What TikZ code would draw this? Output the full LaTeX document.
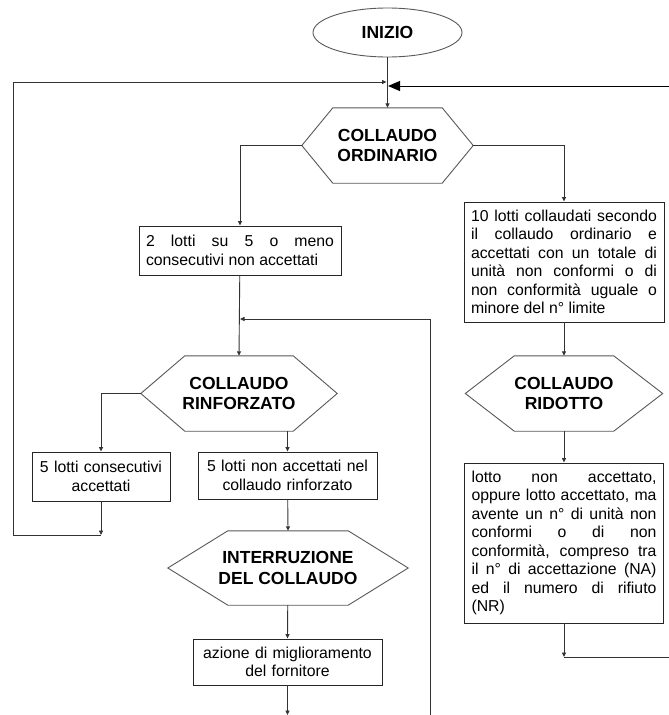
\documentclass[tikz,border=0pt]{standalone}
\usepackage{fontspec}
\setmainfont{Liberation Sans}
\usetikzlibrary{arrows.meta,shapes.geometric}
\newcommand\boxfont{\fontsize{15.8}{18.5}\selectfont}
\newcommand\hexfont{\fontsize{17.5}{20.5}\selectfont\bfseries}
\newcommand\drawhex[2]{\draw[hexline] (#1.west) -- ([xshift=#2]#1.north west) -- ([xshift=-#2]#1.north east) -- (#1.east) -- ([xshift=-#2]#1.south east) -- ([xshift=#2]#1.south west) -- cycle;}
\begin{document}
\begin{tikzpicture}[x=1pt,y=-1pt,
 line/.style={draw=black!80, line width=0.9pt},
 arr/.style={line, -{Triangle[length=4.5pt,width=4pt]}},
 bigarr/.style={draw=black, line width=1pt, -{Triangle[length=12pt,width=10pt]}},
 boxj/.style={draw=black!85, line width=0.9pt, inner xsep=7pt, inner ysep=0pt, font=\boxfont, align=justify},
 boxc/.style={boxj, align=center},
 hex/.style={inner sep=0pt, font=\hexfont, align=center},
 hexline/.style={draw=black!65, line width=0.9pt},
 ell/.style={draw=black!65, line width=0.9pt, ellipse, inner sep=0pt, font=\hexfont},
]
\useasboundingbox (0,0) rectangle (669,715);
\fill[white] (0,0) rectangle (669,715);

% nodes
\node[ell, minimum width=149pt, minimum height=49pt] (ini) at (387.5,32.5) {INIZIO};
\node[hex, minimum width=171pt, minimum height=75pt] (ord) at (387.5,145.5) {COLLAUDO\\ORDINARIO};
\drawhex{ord}{31}
\node[boxj, text width=188pt, minimum height=49pt] (b2) at (240,250.5)
 {2 lotti su 5 o meno\linebreak consecutivi non accettati};
\node[boxj, text width=186pt, minimum height=120pt] (b10) at (564,262)
 {10 lotti collaudati secondo\linebreak il collaudo ordinario e\linebreak accettati con un totale di\linebreak unità non conformi o di\linebreak non conformità uguale o\linebreak minore del n° limite};
\node[hex, minimum width=196pt, minimum height=75pt] (rinf) at (239,393.5) {COLLAUDO\\RINFORZATO};
\drawhex{rinf}{44}
\node[hex, minimum width=197pt, minimum height=75pt] (rid) at (564,393.5) {COLLAUDO\\RIDOTTO};
\drawhex{rid}{49}
\node[boxc, text width=124pt, minimum height=49pt] (b5c) at (101,476.5) {5 lotti consecutivi\\accettati};
\node[boxc, text width=165pt, minimum height=47pt] (b5n) at (287.5,475.5) {5 lotti non accettati nel\\collaudo rinforzato};
\node[hex, minimum width=240pt, minimum height=74pt] (intr) at (288,568) {INTERRUZIONE\\DEL COLLAUDO};
\drawhex{intr}{60}
\node[boxc, text width=175pt, minimum height=46pt] (baz) at (287.5,662) {azione di miglioramento\\del fornitore};
\node[boxj, text width=185pt, minimum height=160pt] (blotto) at (564,543)
 {lotto non accettato,\linebreak oppure lotto accettato, ma\linebreak avente un n° di unità non\linebreak conformi o di non\linebreak conformità, compreso tra\linebreak il n° di accettazione (NA)\linebreak ed il numero di rifiuto\linebreak (NR)};

% coordinates
\coordinate (j1) at (240,319);
\coordinate (bot1) at (430,715);
\coordinate (bot2) at (287.5,715);
\coordinate (c1) at (101,535);
\coordinate (l1) at (13,535);
\coordinate (lt) at (386.5,82);
\coordinate (c2) at (564,657);
\coordinate (r1) at (669,657);
\coordinate (r2) at (669,86);
\coordinate (rt) at (388,86);

% connectors
\draw[arr] (ini) -- (ord.north);
\draw[arr] (ord.west) -| (b2.north);
\draw[arr] (ord.east) -| (b10.north);
\draw[arr] (b2) -- (rinf.north);
\draw[arr] (b10) -- (rid.north);
\draw[arr] (bot1) |- (j1);
\draw[arr] (rinf.west) -| (b5c.north);
\draw[arr] (rinf.south -| b5n.north) -- (b5n.north);
\draw[arr] (b5n) -- (intr.north);
\draw[arr] (intr) -- (baz.north);
\draw[arr] (baz) -- (bot2);
\draw[arr] (rid) -- (blotto.north);
\draw[arr] (b5c) -- (c1);
\draw[arr] (c1) -- (l1) |- (lt);
\draw[arr] (blotto) -- (c2);
\draw[line] (c2) -- (r1);
\draw[bigarr] (r2) -- (rt);
\end{tikzpicture}
\end{document}
